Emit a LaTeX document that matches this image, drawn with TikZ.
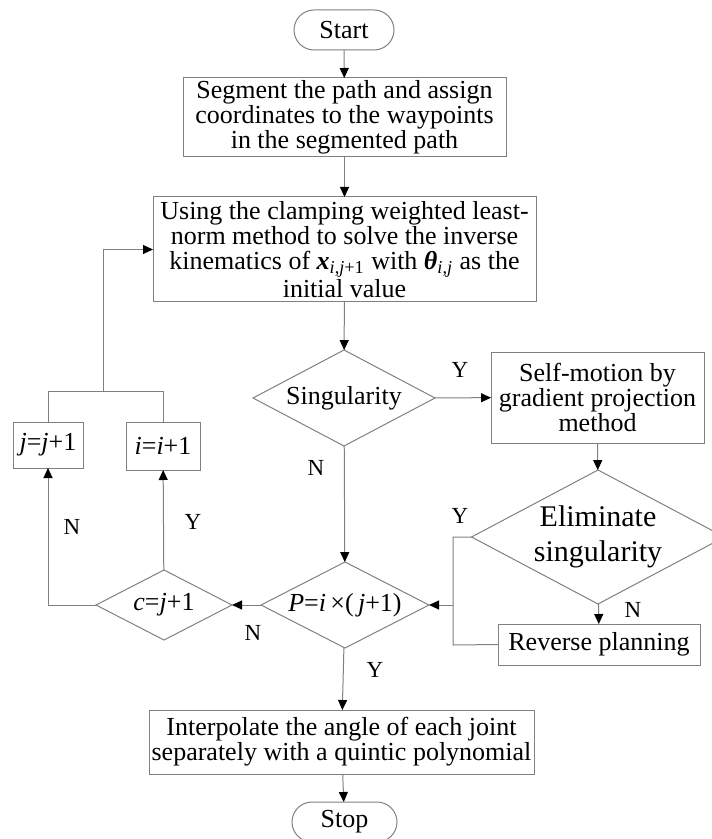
\documentclass[tikz,border=0pt]{standalone}
\usepackage{fontspec}
\setmainfont{Liberation Serif}
\usetikzlibrary{arrows.meta,shapes.geometric}
\begin{document}
\begin{tikzpicture}[x=0.5pt,y=-0.5pt,
  every node/.style={inner sep=0pt,outer sep=0pt},
  txt/.style={font=\fontsize{13pt}{12.5pt}\selectfont,align=center,text=black},
  box/.style={txt,draw=gray,line width=0.5pt,rectangle},
  term/.style={box,rounded corners=10pt},
  dec/.style={txt,draw=gray,line width=0.5pt,diamond,aspect=2},
  lbl/.style={font=\fontsize{11.5pt}{12pt}\selectfont,text=black},
  ln/.style={draw=gray,line width=0.5pt},
  arr/.style={ln,-{Triangle[length=5pt,width=4.5pt,color=black]}}
]
\useasboundingbox (0,0) rectangle (711,839);
\node[term,minimum width=50pt,minimum height=20pt] (start) at (344,30) {Start};
\node[box,minimum width=161.5pt,minimum height=39.5pt] (seg) at (344.5,117.5)
  {Segment the path and assign\\coordinates to the waypoints\\in the segmented path};
\node[box,minimum width=191.5pt,minimum height=52.5pt] (ik) at (344.5,249.5)
  {Using the clamping weighted least-\\norm method to solve the inverse\\kinematics of \textbf{\textit{x}}\textsubscript{\textit{i},\textit{j}+1} with \textbf{\textit{θ}}\textsubscript{\textit{i},\textit{j}} as the\\initial value};
\node[dec,minimum width=91pt,minimum height=48pt] (sing) at (344,398) {Singularity};
\node[box,minimum width=106.5pt,minimum height=45.5pt] (self) at (597.5,397.5)
  {Self-motion by\\gradient projection\\method};
\node[dec,minimum width=126pt,minimum height=67pt,font=\fontsize{15pt}{17.5pt}\selectfont] (elim) at (598,537)
  {Eliminate\\singularity};
\node[box,minimum width=101pt,minimum height=20.5pt] (rev) at (599,644.5) {Reverse planning};
\node[dec,minimum width=84pt,minimum height=43pt] (pdec) at (345,605)
  {\textit{P}=\textit{i}\,×(\,\textit{j}+1)};
\node[dec,minimum width=68pt,minimum height=35pt] (cdec) at (164,605)
  {\textit{c}=\textit{j}+1};
\node[box,minimum width=37pt,minimum height=24pt] (iinc) at (163,446) {\textit{i}=\textit{i}+1};
\node[box,minimum width=35pt,minimum height=23pt] (jinc) at (48,445) {\textit{j}=\textit{j}+1};
\node[box,minimum width=192.5pt,minimum height=32pt] (interp) at (341.5,742)
  {Interpolate the angle of each joint\\separately with a quintic polynomial};
\node[term,minimum width=52.5pt,minimum height=20pt] (stop) at (344.5,822) {Stop};

\coordinate (ej) at (453,537);
\coordinate (pj) at (453,605);
\coordinate (rj) at (453,645);
\coordinate (top1) at (48,391);
\coordinate (top2) at (163,391);
\coordinate (loopj) at (103,391);
\coordinate (loopt) at (103,249.5);
\coordinate (cl) at (48,605);

\draw[arr] (start) -- (seg);
\draw[arr] (seg) -- (ik);
\draw[arr] (ik) -- (sing);
\draw[arr] (sing) -- (self);
\draw[arr] (self) -- (elim);
\draw[arr] (elim) -- (rev);
\draw[arr] (sing) -- (pdec);
\draw[ln] (elim.west) -- (ej) -- (rj) -- (rev.west);
\draw[arr] (pj) -- (pdec.east);
\draw[arr] (pdec) -- (cdec);
\draw[arr] (cdec) -- (iinc);
\draw[arr] (cdec.west) -- (cl) -- (jinc.south);
\draw[ln] (jinc.north) -- (top1) -- (top2) -- (iinc.north);
\draw[arr] (loopj) -- (loopt) -- (ik.west);
\draw[arr] (pdec) -- (interp);
\draw[arr] (interp) -- (stop);

\node[lbl] (ly1) at (460,370) {Y};
\node[lbl] (ln1) at (316,468) {N};
\node[lbl] (ly2) at (460,516) {Y};
\node[lbl] (ln2) at (633,610) {N};
\node[lbl] (ln3) at (253,633) {N};
\node[lbl] (ly3) at (193,522) {Y};
\node[lbl] (ln4) at (72,527) {N};
\node[lbl] (ly4) at (375,670) {Y};
\end{tikzpicture}
\end{document}
